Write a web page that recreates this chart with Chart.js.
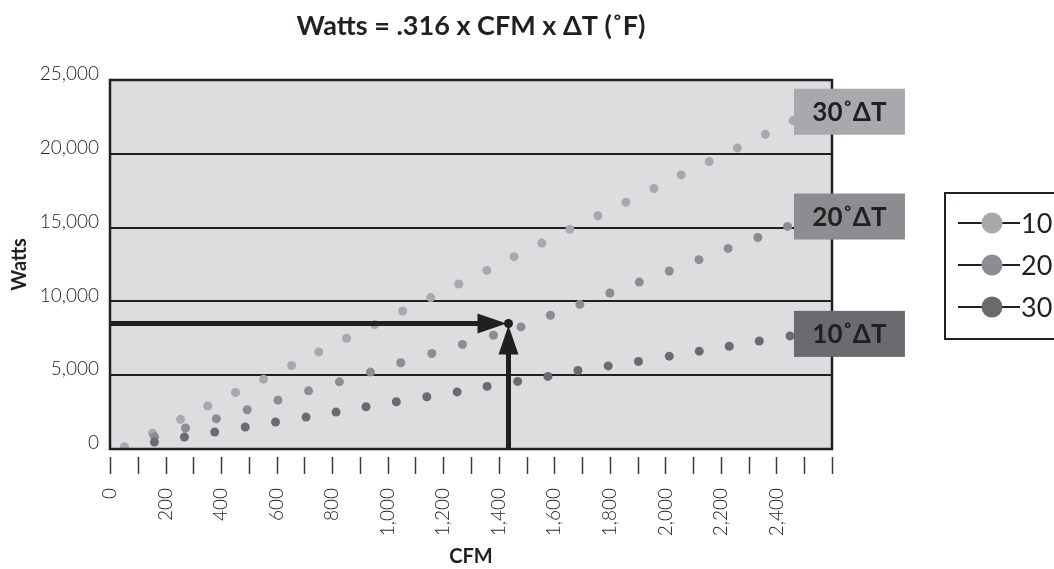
<!DOCTYPE html>
<html>
<head>
<meta charset="utf-8">
<script src="https://cdn.jsdelivr.net/npm/chart.js@4"></script>
<style>
  html, body { margin: 0; padding: 0; background: #fff; }
  #wrap { width: 1054px; height: 569px; position: relative; }
</style>
</head>
<body>
<div id="wrap"><canvas id="chart"></canvas></div>
<script>
// Series (CFM, Watts)
const cfm10 = [52, 153, 254, 352, 452, 553, 654, 752, 852, 953, 1054, 1155, 1256, 1357, 1455, 1555, 1656, 1757, 1858, 1959, 2057, 2158, 2259, 2360, 2460];
const watts10 = [150, 1060, 2010, 2910, 3830, 4730, 5660, 6580, 7500, 8430, 9350, 10260, 11180, 12100, 13030, 13950, 14880, 15800, 16720, 17650, 18570, 19470, 20400, 21320, 22250];

const cfm20 = [160, 272, 383, 494, 605, 715, 826, 938, 1047, 1159, 1269, 1381, 1480, 1586, 1692, 1800, 1906, 2014, 2121, 2226, 2333, 2440];
const watts20 = [830, 1420, 2050, 2660, 3310, 3940, 4550, 5210, 5840, 6470, 7080, 7710, 8270, 9060, 9800, 10570, 11310, 12060, 12830, 13590, 14330, 15080];

const cfm30 = [160, 268, 377, 487, 596, 706, 814, 922, 1031, 1141, 1250, 1358, 1468, 1577, 1685, 1794, 1903, 2014, 2122, 2230, 2338, 2449];
const watts30 = [470, 810, 1150, 1490, 1830, 2160, 2500, 2860, 3200, 3540, 3870, 4240, 4580, 4920, 5320, 5630, 5930, 6290, 6630, 6960, 7320, 7660];

const seriesNames = ['10', '20', '30'];
const seriesColors = ['#a7a9ac', '#8b8d90', '#6a6b6e'];

// Tag boxes at the right end of each line
const tagNames = ['30˚ΔT', '20˚ΔT', '10˚ΔT'];
const tagWatts = [22850, 15750, 7800];
const tagColors = ['#a7a9ac', '#8b8d90', '#6a6b6e'];
const tagCfm = 2463;

// Example reading marked by the arrows
const markCfm = 1435;
const markWatts = 8500;

const titleText = 'Watts = .316 x CFM x ΔT (˚F)';
const ink = '#231f20';
const font = 'Lato, "Open Sans", sans-serif';

function pts(xs, ys) {
  return xs.map((x, i) => ({ x: x, y: ys[i] }));
}

const decor = {
  id: 'decor',
  beforeDraw(chart) {
    const { ctx, chartArea: a } = chart;
    ctx.save();
    ctx.fillStyle = '#dcddde';
    ctx.fillRect(a.left, a.top, a.right - a.left, a.bottom - a.top);
    ctx.restore();
  },
  afterDatasetsDraw(chart) {
    const { ctx, chartArea: a } = chart;
    const xs = chart.scales.x, ys = chart.scales.y;
    ctx.save();

    // plot frame
    ctx.strokeStyle = ink;
    ctx.lineWidth = 2.5;
    ctx.strokeRect(a.left, a.top, a.right - a.left, a.bottom - a.top);

    // arrows to the example point
    const px = xs.getPixelForValue(markCfm);
    const py = ys.getPixelForValue(markWatts);
    ctx.fillStyle = ink;
    ctx.strokeStyle = ink;
    ctx.lineWidth = 5;
    ctx.beginPath();
    ctx.moveTo(a.left, py);
    ctx.lineTo(px - 28, py);
    ctx.moveTo(px, a.bottom);
    ctx.lineTo(px, py + 28);
    ctx.stroke();
    ctx.beginPath();
    ctx.moveTo(px - 2, py);
    ctx.lineTo(px - 31, py - 10);
    ctx.lineTo(px - 31, py + 10);
    ctx.closePath();
    ctx.fill();
    ctx.beginPath();
    ctx.moveTo(px, py + 2);
    ctx.lineTo(px - 10, py + 31);
    ctx.lineTo(px + 10, py + 31);
    ctx.closePath();
    ctx.fill();
    ctx.beginPath();
    ctx.arc(px, py, 4.5, 0, Math.PI * 2);
    ctx.fill();

    // tag boxes
    const bx = xs.getPixelForValue(tagCfm);
    tagNames.forEach((name, i) => {
      const cy = ys.getPixelForValue(tagWatts[i]);
      ctx.fillStyle = tagColors[i];
      ctx.fillRect(bx, cy - 23, 111, 46);
      ctx.fillStyle = ink;
      ctx.font = 'bold 26px ' + font;
      ctx.textAlign = 'center';
      ctx.textBaseline = 'middle';
      ctx.fillText(name, bx + 55.5, cy + 1);
    });
    ctx.restore();
  },
  afterDraw(chart) {
    const { ctx, chartArea: a } = chart;
    const xs = chart.scales.x;
    ctx.save();

    // x tick marks, set off from the axis line
    ctx.strokeStyle = '#3a3a3a';
    ctx.lineWidth = 1.5;
    xs.ticks.forEach(t => {
      const x = Math.round(xs.getPixelForValue(t.value)) + 0.5;
      ctx.beginPath();
      ctx.moveTo(x, a.bottom + 8);
      ctx.lineTo(x, a.bottom + 25);
      ctx.stroke();
    });

    // title, centred over the plot
    ctx.fillStyle = ink;
    ctx.font = 'bold 27px ' + font;
    ctx.textAlign = 'center';
    ctx.textBaseline = 'alphabetic';
    ctx.fillText(titleText, (a.left + a.right) / 2, 35);

    // legend
    const lx = 945, ly = 193;
    ctx.fillStyle = '#fff';
    ctx.fillRect(lx, ly, 140, 146);
    ctx.strokeStyle = ink;
    ctx.lineWidth = 2;
    ctx.strokeRect(lx, ly, 140, 146);
    chart.data.datasets.forEach((ds, i) => {
      const y = 223 + i * 42;
      ctx.strokeStyle = ink;
      ctx.lineWidth = 2;
      ctx.beginPath();
      ctx.moveTo(958, y);
      ctx.lineTo(1020, y);
      ctx.stroke();
      ctx.fillStyle = ds.backgroundColor;
      ctx.beginPath();
      ctx.arc(992, y, 10.5, 0, Math.PI * 2);
      ctx.fill();
      ctx.fillStyle = ink;
      ctx.font = '27px ' + font;
      ctx.textAlign = 'left';
      ctx.textBaseline = 'middle';
      ctx.fillText(ds.label, 1021, y + 1);
    });
    ctx.restore();
  }
};

new Chart(document.getElementById('chart'), {
  type: 'scatter',
  data: {
    datasets: [
      { label: seriesNames[0], data: pts(cfm10, watts10), backgroundColor: seriesColors[0], order: 3 },
      { label: seriesNames[1], data: pts(cfm20, watts20), backgroundColor: seriesColors[1], order: 2 },
      { label: seriesNames[2], data: pts(cfm30, watts30), backgroundColor: seriesColors[2], order: 1 }
    ]
  },
  options: {
    responsive: true,
    maintainAspectRatio: false,
    animation: false,
    layout: { padding: { top: 80, right: 222, bottom: 0, left: 4 } },
    elements: { point: { radius: 4.5, borderWidth: 0, hoverRadius: 4.5 } },
    plugins: {
      legend: { display: false },
      title: { display: false },
      tooltip: { enabled: false }
    },
    scales: {
      x: {
        type: 'linear',
        min: 0,
        max: 2600,
        afterFit: s => { s.height = 120; },
        grid: { display: false },
        border: { display: false },
        ticks: {
          stepSize: 100,
          autoSkip: false,
          minRotation: 90,
          maxRotation: 90,
          padding: 31,
          color: ink,
          font: { family: font, size: 19, weight: '300' },
          callback: v => (v % 200 === 0 && v <= 2400) ? v.toLocaleString('en-US') : ''
        },
        title: {
          display: true,
          text: 'CFM',
          color: ink,
          font: { family: font, size: 20, weight: 'bold' },
          padding: { top: 4, bottom: 0 }
        }
      },
      y: {
        min: 0,
        max: 25000,
        afterFit: s => { s.width = 106; },
        grid: { color: ink, lineWidth: 2, drawTicks: false },
        border: { display: false },
        ticks: {
          stepSize: 5000,
          padding: 11,
          labelOffset: -6,
          color: ink,
          font: { family: font, size: 19, weight: '300' },
          callback: v => v.toLocaleString('en-US')
        },
        title: {
          display: true,
          text: 'Watts',
          color: ink,
          font: { family: font, size: 20, weight: 'bold' },
          padding: { top: 4, bottom: 4 }
        }
      }
    }
  },
  plugins: [decor]
});
</script>
</body>
</html>
